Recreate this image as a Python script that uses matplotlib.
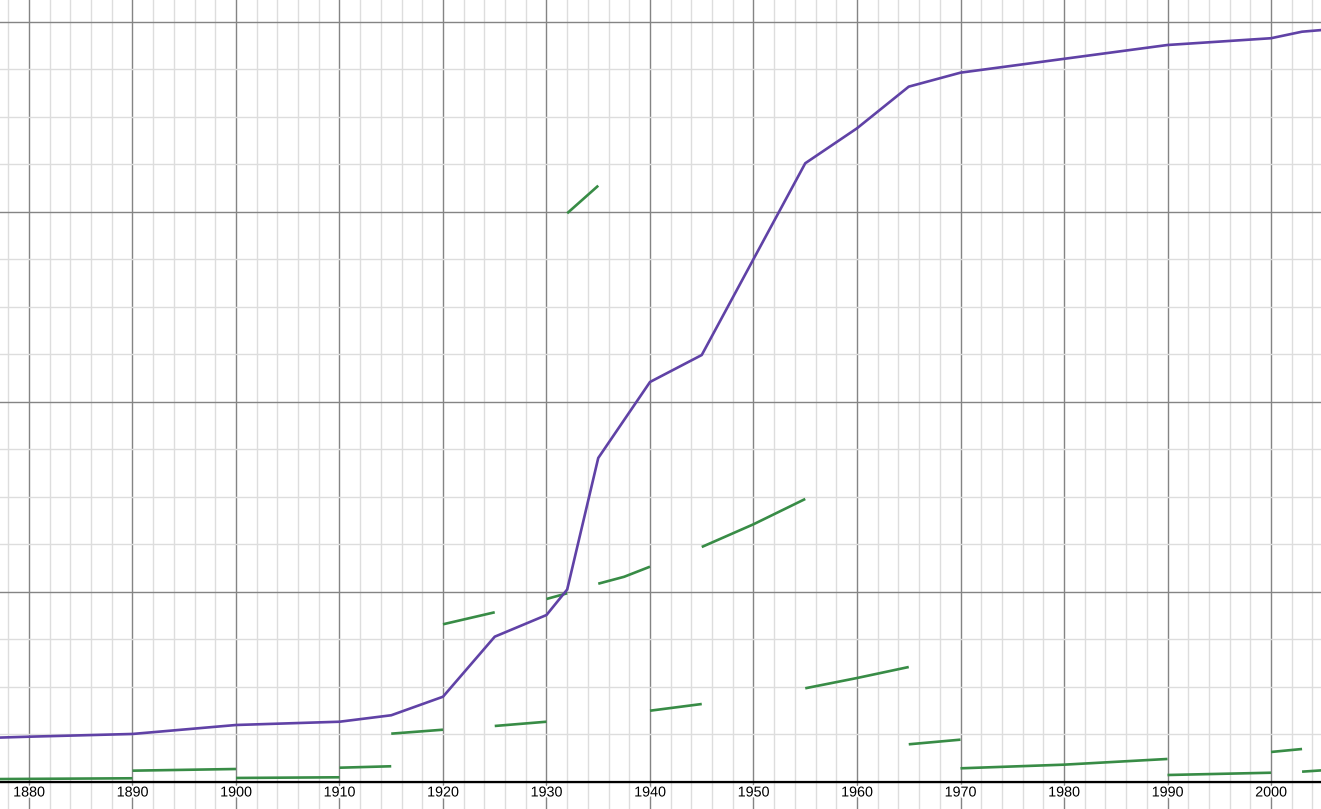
import matplotlib.pyplot as plt
import matplotlib.patheffects as pe
from matplotlib.ticker import MultipleLocator

# purple curve (share, %)
years = [1870, 1880, 1890, 1900, 1910, 1915, 1920, 1925, 1930, 1932, 1935,
         1940, 1945, 1955, 1960, 1965, 1970, 1990, 2000, 2003, 2005]
share = [5.55, 5.96, 6.32, 7.50, 7.93, 8.78, 11.22, 19.12, 21.97, 25.33, 42.63,
         52.63, 56.18, 81.41, 86.01, 91.49, 93.33, 96.97, 97.86, 98.72, 98.95]

# green pieces (growth rate per interval)
rate_years = [
    [1870, 1890], [1890, 1900], [1900, 1910], [1910, 1915], [1915, 1920],
    [1920, 1925], [1925, 1930], [1930, 1932], [1932, 1935],
    [1935, 1937.5, 1940], [1940, 1945], [1945, 1950, 1955],
    [1955, 1960, 1965], [1965, 1970], [1970, 1980, 1990], [1990, 2000],
    [2000, 2003], [2003, 2005],
]
rate_vals = [
    [0.33, 0.49], [1.49, 1.71], [0.53, 0.62], [1.88, 2.07], [6.36, 6.88],
    [20.75, 22.33], [7.37, 7.93], [24.08, 24.83], [74.83, 78.46],
    [26.09, 27.0, 28.33], [9.38, 10.26], [30.92, 33.91, 37.24],
    [12.33, 13.68, 15.13], [4.96, 5.57], [1.80, 2.28, 3.03], [0.92, 1.22],
    [3.95, 4.34], [1.36, 1.54],
]

decades = list(range(1880, 2001, 10))

fig = plt.figure(figsize=(13.21, 8.09), dpi=100)
ax = fig.add_axes([0, 0, 1, 1])
ax.set_xlim(1877.2, 2004.83)
ax.set_ylim(-3.553, 102.89)

ax.xaxis.set_major_locator(MultipleLocator(10))
ax.xaxis.set_minor_locator(MultipleLocator(2))
ax.yaxis.set_major_locator(MultipleLocator(25))
ax.yaxis.set_minor_locator(MultipleLocator(6.25))
ax.grid(which='major', color='#848484', lw=1.0, zorder=0)
ax.grid(which='minor', color='#dddddd', lw=1.0, zorder=0)
ax.set_axisbelow(True)
ax.tick_params(which='both', length=0, labelbottom=False, labelleft=False)
for s in ax.spines.values():
    s.set_visible(False)

ax.axhline(0, color='black', lw=1.6, zorder=2)

for xs, vs in zip(rate_years, rate_vals):
    ax.plot(xs, vs, color='#388c46', lw=1.9, solid_capstyle='butt', zorder=3)

ax.plot(years, share, color='#6042a6', lw=1.9, zorder=4)

for d in decades:
    ax.text(d, -1.38, str(d), ha='center', va='center', fontsize=10.3,
            family='Liberation Sans', zorder=5,
            path_effects=[pe.withStroke(linewidth=3, foreground='white')])

fig.savefig('out.png', dpi=100)
